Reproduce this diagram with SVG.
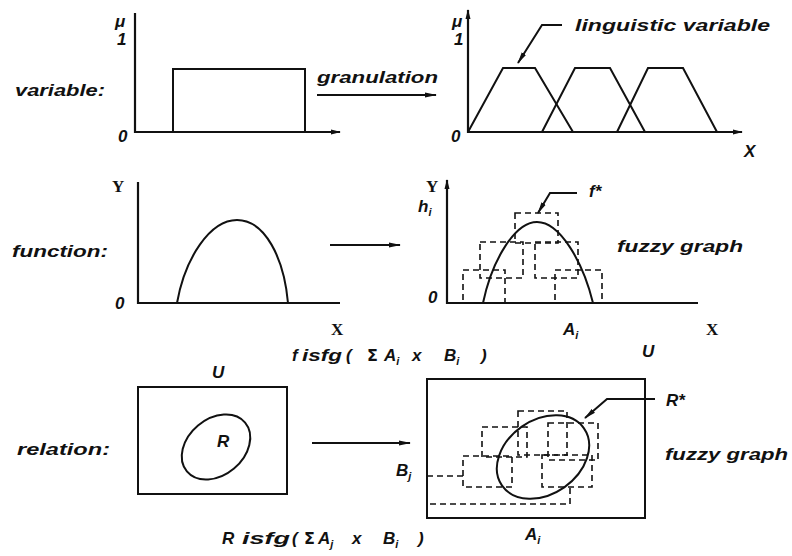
<svg xmlns="http://www.w3.org/2000/svg" width="792" height="556" viewBox="0 0 792 556">
<defs>
<style>
.ax{stroke:#111;stroke-width:2.2;fill:none}
.ln{stroke:#111;stroke-width:2;fill:none}
.ds{stroke:#111;stroke-width:1.6;fill:none;stroke-dasharray:6 4}
.lb{font-family:"Liberation Sans",Arial,sans-serif;font-style:italic;font-weight:bold;font-size:17px;fill:#111}
.sr{font-family:"Liberation Serif","Times New Roman",serif;font-weight:bold;font-size:17px;fill:#111}
.sb{font-size:11px}
.sg{font-family:"DejaVu Sans",sans-serif;font-weight:bold;font-size:16px;fill:#111}
</style>
<marker id="ah" viewBox="0 0 12 6" refX="11" refY="3" markerWidth="12" markerHeight="6" markerUnits="userSpaceOnUse" orient="auto">
<path d="M0,0.5 L12,3 L0,5.5 z" fill="#111"/>
</marker>
<marker id="ax" viewBox="0 0 10 6" refX="9" refY="3" markerWidth="10" markerHeight="6" markerUnits="userSpaceOnUse" orient="auto-start-reverse">
<path d="M0,0.5 L10,3 L0,5.5 z" fill="#111"/>
</marker>
</defs>
<rect width="792" height="556" fill="#fff"/>

<g id="variable">
<text class="lb" x="15" y="96" textLength="90" lengthAdjust="spacingAndGlyphs">variable:</text>
<line class="ax" x1="135" y1="13" x2="135" y2="133"/>
<line class="ax" x1="134" y1="132" x2="340" y2="132" marker-end="url(#ax)"/>
<text class="lb" x="115" y="27" font-style="normal">μ</text>
<text class="lb" x="117" y="45" font-size="14" font-style="normal">1</text>
<text class="lb" x="118" y="142" font-style="normal">0</text>
<polyline class="ln" points="173,132 173,69 305,69 305,132"/>
</g>

<g id="linguistic">
<line class="ax" x1="468" y1="10" x2="468" y2="133" marker-start="url(#ax)"/>
<line class="ax" x1="467" y1="132" x2="742" y2="132" marker-end="url(#ax)"/>
<text class="lb" x="452" y="27" font-style="normal">μ</text>
<text class="lb" x="454" y="45" font-size="14" font-style="normal">1</text>
<text class="lb" x="451" y="142" font-style="normal">0</text>
<text class="lb" x="744" y="157" font-size="18">X</text>
<polyline class="ln" points="468,132 503,68 535,68 573,132"/>
<polyline class="ln" points="542,132 575,68 610,68 645,132"/>
<polyline class="ln" points="617,132 648,68 683,68 717,132"/>
<text class="lb" x="575" y="31" textLength="195" lengthAdjust="spacingAndGlyphs">linguistic variable</text>
<polyline class="ln" points="562,25 542,25 518,63" stroke-width="1.8" marker-end="url(#ah)"/>
</g>

<g id="function">
<text class="lb" x="12" y="257" textLength="96" lengthAdjust="spacingAndGlyphs">function:</text>
<line class="ax" x1="138" y1="182" x2="138" y2="304"/>
<line class="ax" x1="137" y1="303" x2="340" y2="303"/>
<text class="sr" x="112" y="192">Y</text>
<text class="lb" x="115" y="309" font-style="normal">0</text>
<text class="sr" x="331" y="335">X</text>
<path class="ln" d="M177,303 C185,258 210,220 237,220 C265,220 284,258 288,303"/>
</g>

<g id="fuzzy-graph-f">
<line class="ax" x1="447" y1="180" x2="447" y2="304" marker-start="url(#ax)"/>
<line class="ax" x1="446" y1="303" x2="698" y2="303"/>
<text class="sr" x="426" y="192">Y</text>
<text class="lb" x="428" y="303" font-style="normal">0</text>
<text class="lb" x="418" y="212">h<tspan class="sb" dy="4">i</tspan></text>
<text class="sr" x="706" y="335">X</text>
<text class="lb" x="563" y="335">A<tspan class="sb" dy="4">i</tspan></text>
<path class="ln" d="M483,303 C492,260 515,222 537,222 C560,222 583,262 593,303"/>
<rect class="ds" x="463" y="270" width="42" height="33"/>
<rect class="ds" x="480" y="242" width="43" height="36"/>
<rect class="ds" x="515" y="213" width="43" height="30"/>
<rect class="ds" x="535" y="242" width="43" height="36"/>
<rect class="ds" x="555" y="270" width="47" height="33"/>
<text class="lb" x="589" y="197">f*</text>
<polyline class="ln" points="577,193 550,193 538,213" stroke-width="1.8" marker-end="url(#ah)"/>
<text class="lb" x="617" y="252" textLength="126" lengthAdjust="spacingAndGlyphs">fuzzy graph</text>
<text class="lb" x="292" y="361">f</text>
<text class="lb" x="302" y="361" textLength="40" lengthAdjust="spacingAndGlyphs">isfg</text>
<text class="lb" x="346" y="361">(</text>
<text class="sg" x="367" y="361">Σ</text>
<text class="lb" x="384" y="361">A<tspan class="sb" dy="4">i</tspan></text>
<text class="lb" x="412" y="361">x</text>
<text class="lb" x="444" y="361">B<tspan class="sb" dy="4">i</tspan></text>
<text class="lb" x="481" y="361">)</text>
<text class="lb" x="642" y="357">U</text>
</g>

<g id="relation">
<text class="lb" x="17" y="455" textLength="93" lengthAdjust="spacingAndGlyphs">relation:</text>
<rect class="ln" x="138" y="387" width="149" height="107"/>
<text class="lb" x="212" y="378">U</text>
<ellipse class="ln" cx="216" cy="447" rx="38" ry="28" transform="rotate(-40 216 447)"/>
<text class="lb" x="217" y="447" font-size="12">R</text>
</g>

<g id="fuzzy-graph-R">
<rect class="ln" x="427" y="379" width="218" height="139"/>
<ellipse class="ln" cx="543" cy="457" rx="50" ry="37" transform="rotate(-35 543 457)"/>
<rect class="ds" x="518" y="411" width="49" height="44"/>
<rect class="ds" x="482" y="427" width="45" height="30"/>
<rect class="ds" x="548" y="423" width="50" height="37"/>
<rect class="ds" x="463" y="456" width="49" height="31"/>
<rect class="ds" x="542" y="455" width="50" height="32"/>
<line class="ds" x1="427" y1="476" x2="463" y2="476"/>
<polyline class="ds" points="430,504 570,504 570,487"/>
<text class="lb" x="396" y="476">B<tspan class="sb" dy="4">j</tspan></text>
<text class="lb" x="525" y="540">A<tspan class="sb" dy="4">i</tspan></text>
<text class="lb" x="666" y="406">R*</text>
<polyline class="ln" points="655,399 607,399 585,418" stroke-width="1.8" marker-end="url(#ah)"/>
<text class="lb" x="665" y="460" textLength="123" lengthAdjust="spacingAndGlyphs">fuzzy graph</text>
<text class="lb" x="222" y="544">R</text>
<text class="lb" x="242" y="544" textLength="48" lengthAdjust="spacingAndGlyphs">isfg</text>
<text class="lb" x="292" y="544">(</text>
<text class="sg" x="304" y="544">Σ</text>
<text class="lb" x="318" y="544">A<tspan class="sb" dy="4">j</tspan></text>
<text class="lb" x="352" y="544">x</text>
<text class="lb" x="383" y="544">B<tspan class="sb" dy="4">i</tspan></text>
<text class="lb" x="418" y="544">)</text>
</g>

<g id="connectors">
<text class="lb" x="317" y="83" textLength="121" lengthAdjust="spacingAndGlyphs">granulation</text>
<line class="ln" x1="317" y1="95" x2="436" y2="95" marker-end="url(#ah)"/>
<line class="ln" x1="330" y1="245" x2="400" y2="245" marker-end="url(#ah)"/>
<line class="ln" x1="312" y1="443" x2="410" y2="443" marker-end="url(#ah)"/>
</g>
</svg>
